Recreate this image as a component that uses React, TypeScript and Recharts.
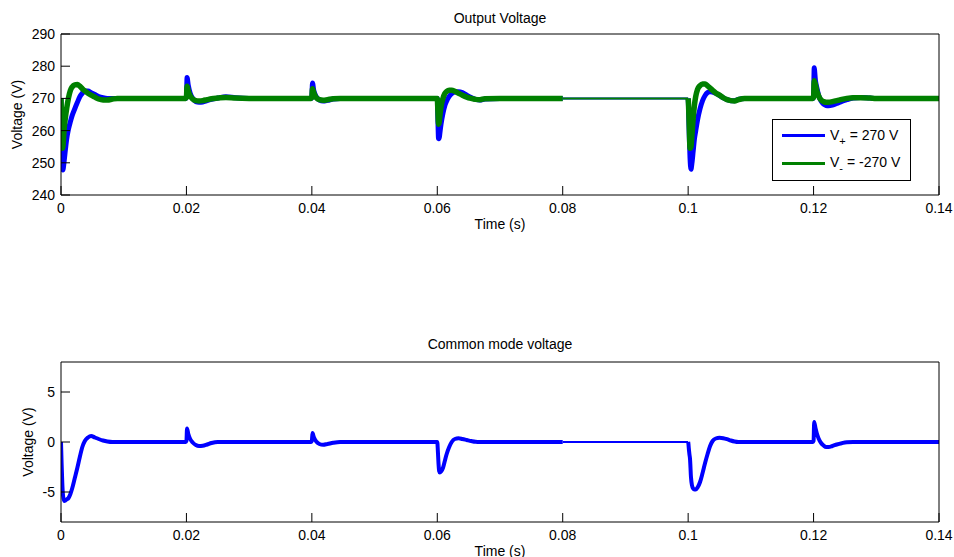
import React from 'react';
import { LineChart, Line, XAxis, YAxis } from 'recharts';

// ---- data ----
const time = [
  0, 0.0001, 0.0002, 0.0003, 0.0005, 0.0007, 0.0009, 0.0012, 0.0015, 0.0018, 0.0022, 0.0026, 0.003, 0.0034, 0.0038, 0.0043, 0.0048, 0.0054, 0.006, 0.0067, 0.0074, 0.0082, 0.009, 0.01,
  0.015, 0.0199,
  0.02, 0.0201, 0.0203, 0.0206, 0.021, 0.0215, 0.022, 0.0226, 0.0233, 0.024, 0.025, 0.0263, 0.0278, 0.03,
  0.035, 0.0399,
  0.04, 0.0401, 0.0403, 0.0407, 0.0412, 0.0418, 0.0425, 0.0434, 0.0445,
  0.05, 0.055, 0.0599,
  0.06, 0.0601, 0.0602, 0.0603, 0.0604, 0.0606, 0.0609, 0.0612, 0.0615, 0.0619, 0.0623, 0.0628, 0.0634, 0.064, 0.0647, 0.0654, 0.0661, 0.0668, 0.0676, 0.07,
  0.075, 0.08, 0.09,
  0.1, 0.10005, 0.1001, 0.1002, 0.1003, 0.10045, 0.1006, 0.1008, 0.101, 0.1012, 0.1015, 0.1019, 0.1023, 0.1027, 0.1031, 0.1035, 0.1039, 0.1044, 0.105, 0.1056, 0.1062, 0.1068, 0.1074, 0.108, 0.109, 0.11,
  0.115, 0.1199,
  0.12, 0.1201, 0.1203, 0.1205, 0.1208, 0.1212, 0.1216, 0.122, 0.1224, 0.123, 0.1237, 0.1245, 0.1253, 0.1263, 0.1275, 0.129, 0.13, 0.135, 0.14,
];

const vPlus = [
  270, 258, 250, 247.8, 250.5, 254, 257.3, 260.5, 262.8, 264.8, 266.8, 268.7, 270.5, 271.6, 272.3, 272.3, 271.8, 271.2, 270.6, 270.2, 270, 270, 270, 270,
  270, 270,
  270.5, 276.5, 274, 271.6, 270, 269, 268.8, 268.9, 269.3, 269.7, 270.1, 270.5, 270.2, 270,
  270, 270,
  270.5, 274.8, 272.5, 270.5, 269.5, 269.2, 269.4, 269.8, 270,
  270, 270, 270,
  270, 263, 257.5, 257.5, 259, 262, 265.3, 267.7, 269.2, 270.6, 271.5, 272, 272.1, 271.8, 271, 270.3, 269.7, 269.5, 269.8, 270,
  270, 270, 270,
  270, 268, 264, 257, 251.5, 248, 249.8, 253.5, 257.3, 259.8, 263.3, 266.8, 269.3, 270.9, 271.8, 272.1, 272, 271.6, 270.9, 270.2, 269.6, 269.3, 269.3, 269.7, 270, 270,
  270, 270,
  270.5, 279.5, 275.5, 273.5, 271, 269.2, 268.2, 267.8, 267.7, 267.9, 268.4, 269.1, 269.6, 270.1, 270.3, 270.1, 270, 270, 270,
];

const vMinus = [
  270, 262, 254.5, 255, 260.5, 264, 266.8, 270.2, 272.5, 273.6, 274.2, 274.3, 273.8, 273, 272.3, 271.6, 271, 270.4, 269.8, 269.5, 269.5, 269.8, 270, 270,
  270, 270,
  270.3, 273.8, 272.3, 270.8, 269.8, 269.3, 269.2, 269.3, 269.6, 269.9, 270.1, 270.3, 270.1, 270,
  270, 270,
  270.3, 273, 271.8, 270.2, 269.6, 269.4, 269.6, 269.9, 270,
  270, 270, 270,
  270, 266, 262, 262.5, 264.5, 267.5, 270, 271.5, 272.2, 272.5, 272.5, 272.2, 271.6, 271, 270.4, 270, 269.7, 269.6, 269.9, 270,
  270, 270, 270,
  270, 268.5, 266, 260, 254.5, 255, 258.5, 263.8, 267.8, 270.5, 272.8, 274, 274.5, 274.5, 273.9, 273.2, 272.5, 271.7, 271, 270.2, 269.6, 269.3, 269.2, 269.6, 270, 270,
  270, 270,
  270.3, 275.5, 274.2, 272.5, 270.8, 269.5, 269, 268.8, 268.8, 269, 269.3, 269.7, 270, 270.2, 270.2, 270.1, 270, 270, 270,
];

const vCommon = [
  0, -2.2, -4, -5.2, -5.9, -5.85, -5.75, -5.6, -5.2, -4.6, -3.6, -2.6, -1.5, -0.5, 0.1, 0.45, 0.6, 0.45, 0.3, 0.15, 0.05, 0, 0, 0,
  0, 0,
  0.1, 1.35, 0.8, 0.3, -0.05, -0.3, -0.4, -0.38, -0.25, -0.1, 0, 0, 0, 0,
  0, 0,
  0.1, 0.9, 0.5, 0.05, -0.2, -0.28, -0.2, -0.08, 0,
  0, 0, 0,
  0, -1, -2.2, -2.9, -3.05, -2.95, -2.6, -1.9, -1.2, -0.5, 0, 0.3, 0.37, 0.3, 0.2, 0.1, 0.02, 0, 0, 0,
  0, 0, 0,
  0, -0.2, -0.6, -1.2, -1.7, -3.5, -4.3, -4.65, -4.75, -4.75, -4.55, -4, -3.1, -2.1, -1.2, -0.4, 0.1, 0.35, 0.42, 0.38, 0.28, 0.15, 0.05, 0, 0, 0,
  0, 0,
  0.1, 2, 1.4, 0.9, 0.35, -0.1, -0.35, -0.5, -0.5, -0.4, -0.25, -0.12, -0.03, 0, 0, 0, 0, 0, 0,
];

const xTicks = [0, 0.02, 0.04, 0.06, 0.08, 0.1, 0.12, 0.14];
const topYTicks = [240, 250, 260, 270, 280, 290];
const bottomYTicks = [-5, 0, 5];
const topTitle = 'Output Voltage';
const bottomTitle = 'Common mode voltage';
const xLabel = 'Time (s)';
const yLabel = 'Voltage (V)';
const quietStart = 0.08;
const quietEnd = 0.1;

// ---- table for recharts ----
const rows = time.map((t, i) => {
  const thick = t <= quietStart || t >= quietEnd;
  const thin = t >= quietStart && t <= quietEnd;
  return {
    t,
    pThick: thick ? vPlus[i] : null,
    pThin: thin ? vPlus[i] : null,
    mThick: thick ? vMinus[i] : null,
    mThin: thin ? vMinus[i] : null,
    cThick: thick ? vCommon[i] : null,
    cThin: thin ? vCommon[i] : null,
  };
});

const BLUE = '#0000ff';
const GREEN = '#008000';
const TXT = '#000';
const FS = 14;
const fmt = (v: number) => String(v);

const tickStyle = { fontSize: FS, fill: TXT };

export default function App() {
  return (
    <div
      style={{
        position: 'absolute',
        left: 0,
        top: 0,
        width: 954,
        height: 557,
        background: '#fff',
        fontFamily: "'Liberation Sans', Arial, Helvetica, sans-serif",
        overflow: 'hidden',
      }}
    >
      {/* Top panel */}
      <div style={{ position: 'absolute', left: 0, top: 0 }}>
        <LineChart width={954} height={240} data={rows} margin={{ top: 33, right: 14, bottom: 5, left: 0 }}>
          <XAxis
            xAxisId="b"
            dataKey="t"
            type="number"
            domain={[0, 0.14]}
            ticks={xTicks}
            interval={0}
            allowDataOverflow
            tickFormatter={fmt}
            stroke="#000"
            tickSize={-9}
            tickMargin={17}
            height={40}
            tick={tickStyle}
            label={{ value: xLabel, position: 'insideBottom', offset: 6, fontSize: FS, fill: TXT }}
          />
          <XAxis
            xAxisId="t"
            orientation="top"
            dataKey="t"
            type="number"
            domain={[0, 0.14]}
            ticks={xTicks}
            interval={0}
            allowDataOverflow
            stroke="#000"
            tickSize={-9}
            tick={false}
            height={1}
            label={{ value: topTitle, position: 'top', offset: 10, fontSize: FS, fill: TXT }}
          />
          <YAxis
            yAxisId="l"
            type="number"
            domain={[240, 290]}
            ticks={topYTicks}
            interval={0}
            allowDataOverflow
            stroke="#000"
            tickSize={-9}
            tickMargin={15}
            width={61}
            tick={tickStyle}
            label={{ value: yLabel, angle: -90, position: 'insideLeft', offset: 17, fontSize: FS, fill: TXT, style: { textAnchor: 'middle' } }}
          />
          <YAxis
            yAxisId="r"
            orientation="right"
            type="number"
            domain={[240, 290]}
            ticks={topYTicks}
            interval={0}
            allowDataOverflow
            stroke="#000"
            tickSize={-9}
            tick={false}
            width={1}
          />
          <Line xAxisId="b" yAxisId="l" dataKey="pThick" stroke={BLUE} strokeWidth={5} dot={false} activeDot={false} type="monotone" isAnimationActive={false} />
          <Line xAxisId="b" yAxisId="l" dataKey="pThin" stroke={BLUE} strokeWidth={2} dot={false} activeDot={false} type="monotone" isAnimationActive={false} />
          <Line xAxisId="b" yAxisId="l" dataKey="mThick" stroke={GREEN} strokeWidth={5.5} dot={false} activeDot={false} type="monotone" isAnimationActive={false} />
          <Line xAxisId="b" yAxisId="l" dataKey="mThin" stroke={GREEN} strokeWidth={2} dot={false} activeDot={false} type="monotone" isAnimationActive={false} />
        </LineChart>
      </div>

      {/* Legend */}
      <div
        style={{
          position: 'absolute',
          left: 772,
          top: 119,
          width: 137,
          height: 60,
          border: '1px solid #000',
          background: '#fff',
          fontSize: FS,
          color: TXT,
        }}
      >
        <div style={{ position: 'absolute', left: 9, top: 14, width: 43, height: 3, background: BLUE }} />
        <div style={{ position: 'absolute', left: 57, top: 7, lineHeight: '16px', whiteSpace: 'nowrap' }}>
          V<span style={{ fontSize: 11, position: 'relative', top: 5 }}>+</span> = 270 V
        </div>
        <div style={{ position: 'absolute', left: 9, top: 42, width: 43, height: 3, background: GREEN }} />
        <div style={{ position: 'absolute', left: 57, top: 34, lineHeight: '16px', whiteSpace: 'nowrap' }}>
          V<span style={{ fontSize: 11, position: 'relative', top: 5 }}>-</span> = -270 V
        </div>
      </div>

      {/* Bottom panel */}
      <div style={{ position: 'absolute', left: 0, top: 300 }}>
        <LineChart width={954} height={257} data={rows} margin={{ top: 61, right: 14, bottom: 0, left: 0 }}>
          <XAxis
            xAxisId="b"
            dataKey="t"
            type="number"
            domain={[0, 0.14]}
            ticks={xTicks}
            interval={0}
            allowDataOverflow
            tickFormatter={fmt}
            stroke="#000"
            tickSize={-9}
            tickMargin={17}
            height={35}
            tick={tickStyle}
            label={{ value: xLabel, position: 'insideBottom', offset: 1, fontSize: FS, fill: TXT }}
          />
          <XAxis
            xAxisId="t"
            orientation="top"
            dataKey="t"
            type="number"
            domain={[0, 0.14]}
            ticks={xTicks}
            interval={0}
            allowDataOverflow
            stroke="#000"
            tickSize={-9}
            tick={false}
            height={1}
            label={{ value: bottomTitle, position: 'top', offset: 12, fontSize: FS, fill: TXT }}
          />
          <YAxis
            yAxisId="l"
            type="number"
            domain={[-8, 8]}
            ticks={bottomYTicks}
            interval={0}
            allowDataOverflow
            stroke="#000"
            tickSize={-9}
            tickMargin={15}
            width={61}
            tick={tickStyle}
            label={{ value: yLabel, angle: -90, position: 'insideLeft', offset: 28, fontSize: FS, fill: TXT, style: { textAnchor: 'middle' } }}
          />
          <YAxis
            yAxisId="r"
            orientation="right"
            type="number"
            domain={[-8, 8]}
            ticks={bottomYTicks}
            interval={0}
            allowDataOverflow
            stroke="#000"
            tickSize={-9}
            tick={false}
            width={1}
          />
          <Line xAxisId="b" yAxisId="l" dataKey="cThick" stroke={BLUE} strokeWidth={4} dot={false} activeDot={false} type="monotone" isAnimationActive={false} />
          <Line xAxisId="b" yAxisId="l" dataKey="cThin" stroke={BLUE} strokeWidth={2} dot={false} activeDot={false} type="monotone" isAnimationActive={false} />
        </LineChart>
      </div>
    </div>
  );
}
